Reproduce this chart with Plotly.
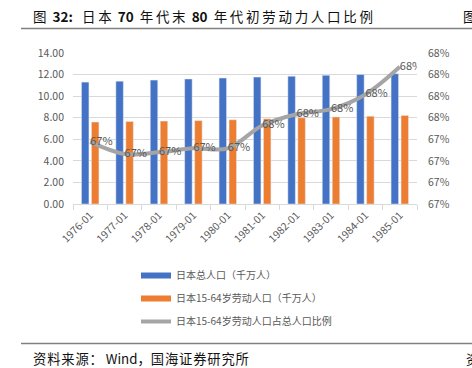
import plotly.graph_objects as go

categories = ["1976-01", "1977-01", "1978-01", "1979-01", "1980-01",
              "1981-01", "1982-01", "1983-01", "1984-01", "1985-01"]
total_pop = [11.30, 11.39, 11.49, 11.59, 11.68, 11.77, 11.85, 11.93, 12.00, 12.08]
work_pop = [7.60, 7.65, 7.69, 7.73, 7.81, 7.90, 7.99, 8.07, 8.14, 8.21]
work_ratio = [0.6742, 0.6728, 0.6730, 0.67345, 0.67345, 0.6761, 0.6774, 0.6780, 0.6797, 0.6829]

name_total = "日本总人口（千万人）"
name_work = "日本15-64岁劳动人口（千万人）"
name_ratio = "日本15-64岁劳动人口占总人口比例"

BLUE = "#4472C4"
ORANGE = "#ED7D31"
GRAY = "#A5A5A5"
TXT = "#595959"
FONT = "Noto Sans CJK SC"
TS = "\u2009"
HS = "\u200a"

W, H = 472, 368
L, R, T, B = 73, 55, 53, 164
PW = W - L - R
PH = H - T - B


def px(x):
    return (x - L) / PW


def py(y):
    return (H - B - y) / PH


def spaced(s, sp=TS):
    return sp.join(list(s))


fig = go.Figure()
fig.add_trace(go.Bar(x=categories, y=total_pop, name=name_total, marker_color=BLUE,
                     showlegend=False))
fig.add_trace(go.Bar(x=categories, y=work_pop, name=name_work, marker_color=ORANGE,
                     showlegend=False))
fig.add_trace(go.Scatter(x=categories, y=work_ratio, name=name_ratio, yaxis="y2",
                         mode="lines+text", line=dict(color=GRAY, width=4, shape="spline"),
                         texttemplate="%{y:.0%}", textposition="middle right",
                         textfont=dict(size=11, color=TXT, family=FONT),
                         showlegend=False))
# legend entries
for nm, col in [(name_total, BLUE), (name_work, ORANGE), (name_ratio, GRAY)]:
    fig.add_trace(go.Scatter(x=[None], y=[None], mode="lines", name=nm,
                             line=dict(color=col, width=6 if col != GRAY else 4),
                             legendgroup=nm))

fig.update_layout(
    width=W, height=H,
    margin=dict(l=L, r=R, t=T, b=B),
    paper_bgcolor="white", plot_bgcolor="white",
    font=dict(family=FONT, color=TXT, size=10),
    barmode="group", bargap=0.42, bargroupgap=0.25,
    xaxis=dict(type="category", tickangle=-45, tickfont=dict(size=10.5, color=TXT),
               showline=True, linecolor="#D9D9D9", linewidth=1,
               ticks="outside", tickson="boundaries", ticklen=5, tickcolor="#D9D9D9",
               showgrid=False),
    yaxis=dict(range=[0, 14], dtick=2, tickformat=".2f", showgrid=True,
               gridcolor="#D9D9D9", gridwidth=1, zeroline=False,
               tickfont=dict(size=10.5, color=TXT), ticklabelstandoff=8),
    yaxis2=dict(overlaying="y", side="right", range=[0.667, 0.6845], tick0=0.667,
                dtick=0.0025, tickformat=".0%", showgrid=False, zeroline=False,
                tickfont=dict(size=10.5, color=TXT), ticklabelstandoff=10),
    legend=dict(x=px(136), y=py(261), xanchor="left", yanchor="top",
                font=dict(size=10, color=TXT, family=FONT), tracegroupgap=4,
                bgcolor="rgba(0,0,0,0)"),
)

title = ("图" + "  <b>32:</b>   " + spaced("日本") + "  <b>70</b>  " + spaced("年代末")
         + "  <b>80</b>  " + spaced("年代初劳动力人口比例"))
fig.add_annotation(x=px(31), y=py(16), xref="paper", yref="paper", xanchor="left",
                   yanchor="middle", showarrow=False, text=title,
                   font=dict(size=13.5, color="#111111", family=FONT))
fig.add_annotation(x=px(461), y=py(16), xref="paper", yref="paper", xanchor="left",
                   yanchor="middle", showarrow=False, text="图",
                   font=dict(size=13.5, color="#111111", family=FONT))
fig.add_shape(type="line", xref="paper", yref="paper", x0=px(21), x1=px(472),
              y0=py(28.5), y1=py(28.5), line=dict(color="#808080", width=1.5))
fig.add_shape(type="line", xref="paper", yref="paper", x0=px(21), x1=px(472),
              y0=py(343.5), y1=py(343.5), line=dict(color="#808080", width=1.5))
footer = spaced("资料来源：", HS) + " Wind" + "，" + spaced("国海证券研究所", HS)
fig.add_annotation(x=px(31), y=py(358), xref="paper", yref="paper", xanchor="left",
                   yanchor="middle", showarrow=False, text=footer,
                   font=dict(size=13.3, color="#111111", family=FONT))
fig.add_annotation(x=px(464), y=py(358), xref="paper", yref="paper", xanchor="left",
                   yanchor="middle", showarrow=False, text="资",
                   font=dict(size=13, color="#111111", family=FONT))

fig.write_html("out.html", config={"displayModeBar": False},
               post_script="document.body.style.margin='0';"
                           "document.body.style.overflow='hidden';")
